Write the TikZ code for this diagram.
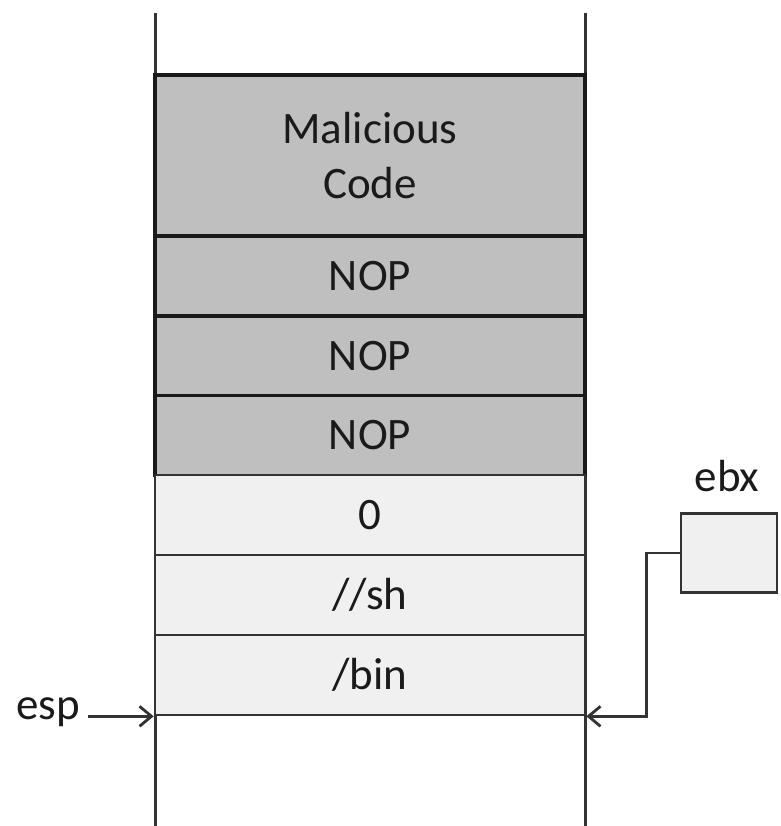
\documentclass[tikz,border=0pt]{standalone}
\usepackage{fontspec}
\setmainfont{Carlito}
\usetikzlibrary{arrows.meta}
\definecolor{darkfill}{HTML}{BFBFBF}
\definecolor{lightfill}{HTML}{F0F0F0}
\definecolor{ink}{HTML}{1A1A1A}
\definecolor{edge}{HTML}{333333}
\tikzset{
  darkcell/.style={draw=ink, line width=3.8pt, fill=darkfill, minimum width=430pt, minimum height=80pt, inner sep=0pt, font=\fontsize{45}{55}\selectfont, text=ink, align=center},
  lightcell/.style={draw=edge, line width=2.6pt, fill=lightfill, minimum width=430pt, minimum height=80pt, inner sep=0pt, font=\fontsize{45}{55}\selectfont, text=ink, align=center},
  lbl/.style={font=\fontsize{45}{55}\selectfont, text=ink, inner sep=0pt},
  arr/.style={draw=edge, line width=2.8pt, -{Straight Barb[length=12pt,width=20pt,line width=2.8pt]}},
  wall/.style={draw=edge, line width=3pt}
}
\begin{document}
\begin{tikzpicture}[x=1pt,y=-1pt]
\useasboundingbox (0,0) rectangle (780,826);
\draw[wall] (155,13) -- (155,826);
\draw[wall] (585,13) -- (585,826);
\node[darkcell, minimum height=161pt] (mal) at (370,155.5) {Malicious\\Code};
\node[darkcell] (nop1) at (370,276) {NOP};
\node[darkcell] (nop2) at (370,356) {NOP};
\node[darkcell] (nop3) at (370,435.5) {NOP};
\node[lightcell] (zero) at (370,515) {0};
\node[lightcell] (sh) at (370,595) {//sh};
\node[lightcell] (bin) at (370,675) {/bin};
\node[draw=edge, line width=2.6pt, fill=lightfill, minimum width=96pt, minimum height=79pt, inner sep=0pt] (ebx) at (729,553) {};
\node[lbl, anchor=south] (ebxl) at (727,492) {ebx};
\node[lbl, anchor=east] (esp) at (80,712) {esp};
\draw[arr] (esp.east |- bin.south west) ++(8,0) -- (bin.south west);
\draw[arr] (ebx.west) -- ++(-33,0) |- (bin.south east);
\end{tikzpicture}
\end{document}
